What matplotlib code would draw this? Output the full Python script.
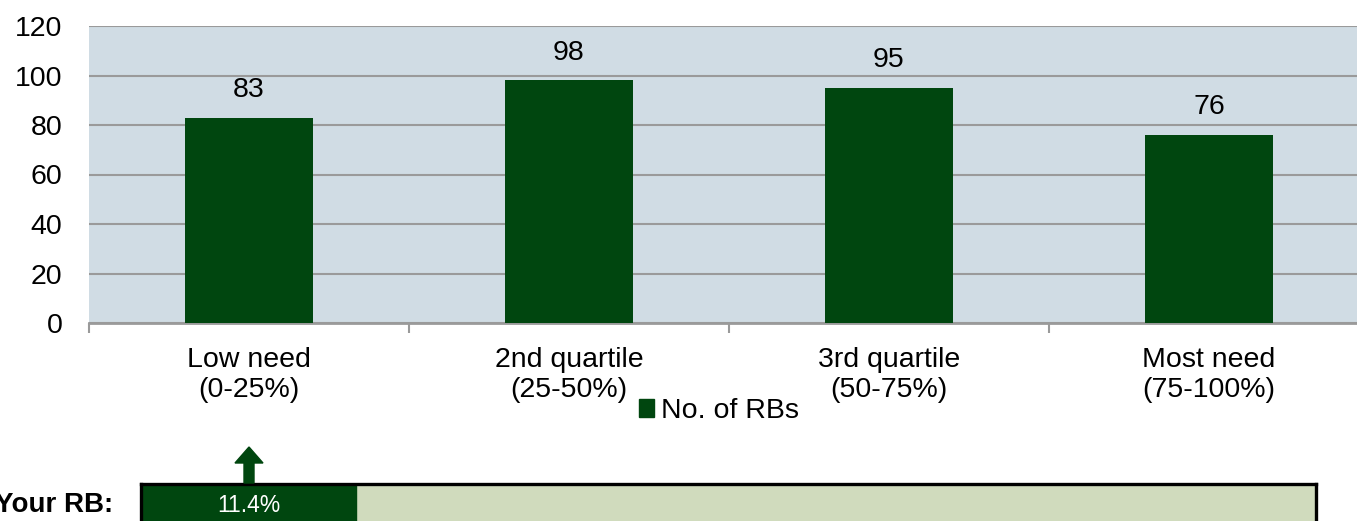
import matplotlib
matplotlib.use("Agg")
import matplotlib.pyplot as plt
from matplotlib.patches import Rectangle, FancyArrow
from matplotlib.transforms import IdentityTransform

plt.rcParams['font.family'] = ['Liberation Sans', 'DejaVu Sans']

categories = ["Low need\n(0-25%)", "2nd quartile\n(25-50%)", "3rd quartile\n(50-75%)", "Most need\n(75-100%)"]
values = [83, 98, 95, 76]
series_name = "No. of RBs"
your_rb_label = "Your RB:"
your_rb_value = "11.4%"
your_rb_quartile = 0

BAR = "#00460F"
BG = "#D0DCE4"
LIGHT = "#D0DBBD"
GRID = "#9A9A9A"

W, H = 1357, 521
fig = plt.figure(figsize=(W / 100, H / 100), dpi=100)

ax = fig.add_axes([89 / W, 198 / H, 1280 / W, 297 / H])
ax.set_facecolor(BG)
x = list(range(len(categories)))
ax.bar(x, values, width=0.4, color=BAR, zorder=3, label=series_name)
for xi, v in zip(x, values):
    ax.annotate(str(v), (xi, v), xytext=(0, 20), textcoords="offset points",
                ha="center", va="center", fontsize=20.5, color="black")
ax.set_xlim(-0.5, len(categories) - 0.5)
ax.set_ylim(0, 120)
ax.set_yticks(range(0, 121, 20))
ax.yaxis.grid(True, color=GRID, linewidth=1.5, zorder=1)
ax.tick_params(axis="y", length=0, labelsize=20.5, pad=19)
ax.set_xticks(x)
ax.set_xticklabels(categories, fontsize=20.5, linespacing=1.22)
ax.tick_params(axis="x", which="major", length=0, pad=17)
ax.set_xticks([i - 0.5 for i in range(len(categories) + 1)], minor=True)
ax.tick_params(axis="x", which="minor", length=7, width=1.5, color=GRID)
for s in ["top", "left", "right"]:
    ax.spines[s].set_visible(False)
ax.spines["bottom"].set_color(GRID)
ax.spines["bottom"].set_linewidth(2)

handle = Rectangle((0, 0), 1, 1, color=BAR)
fig.legend([handle], [series_name], loc="center", bbox_to_anchor=(719 / W, (H - 411) / H),
           frameon=False, fontsize=20.5, handlelength=0.55, handleheight=0.55,
           handletextpad=0.25, borderaxespad=0, borderpad=0)

# Your RB box
bx = fig.add_axes([141 / W, -20 / H, (1316 - 141) / W, 57 / H])
bx.set_facecolor(LIGHT)
bx.set_xlim(0, 1)
bx.set_ylim(0, 1)
bx.set_xticks([])
bx.set_yticks([])
for s in bx.spines.values():
    s.set_linewidth(2.4)
    s.set_color("black")
bx.add_patch(Rectangle((0, 0), (356 - 141) / (1316 - 141), 1, color=BAR, zorder=2))
bx.text((249 - 141) / (1316 - 141), (16 + 20) / 57, your_rb_value, ha="center", va="center",
        color="white", fontsize=16.5, zorder=3)
fig.text(113 / W, 16 / H, your_rb_label, ha="right", va="center", fontsize=20,
         fontweight="bold", color="black")

# block arrow pointing at the quartile
px = ax.transData.transform((your_rb_quartile, 0))[0]
arrow = FancyArrow(px, H - 483, 0, 36, width=10, head_width=28, head_length=16,
                   length_includes_head=True, color=BAR, transform=IdentityTransform())
fig.add_artist(arrow)

fig.savefig("out.png", dpi=100)
